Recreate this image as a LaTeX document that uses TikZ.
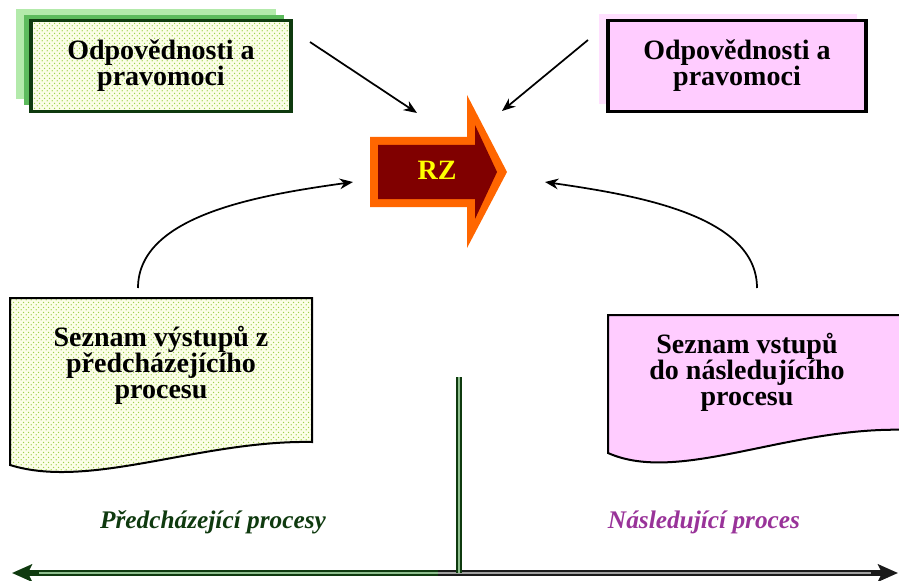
\documentclass[tikz,border=0pt]{standalone}
\usepackage{fontspec}
\setmainfont{Liberation Serif}
\usepackage{tikz}
\usetikzlibrary{arrows.meta, patterns, shadows, positioning, calc}
\definecolor{mygreen}{HTML}{0F3A0F}
\definecolor{lightshade}{HTML}{B3EAAB}
\definecolor{midshade}{HTML}{5DBB5D}
\definecolor{dotgreen}{HTML}{9FD24A}
\definecolor{paleyellow}{HTML}{FBFDE8}
\definecolor{mypink}{HTML}{FFCCFF}
\definecolor{palepink}{HTML}{FFE0FF}
\definecolor{myorange}{HTML}{FF6600}
\definecolor{mymaroon}{HTML}{800000}
\definecolor{myyellow}{HTML}{FFFF00}
\definecolor{mypurple}{HTML}{993399}
\definecolor{lightline}{HTML}{8FBF8F}
\definecolor{darkline}{HTML}{1A1A1A}
\definecolor{greyline}{HTML}{A0A0A0}
\pgfdeclarepatternformonly{greendots}{\pgfpointorigin}{\pgfqpoint{4pt}{4pt}}{\pgfqpoint{4pt}{4pt}}{%
	\pgfpathcircle{\pgfqpoint{1pt}{1pt}}{0.6pt}%
	\pgfpathcircle{\pgfqpoint{3pt}{3pt}}{0.6pt}%
	\pgfusepath{fill}}
\tikzset{
	boxtext/.style={font=\fontsize{21}{19.5}\selectfont\bfseries, align=center},
	dotfill/.style={preaction={fill=paleyellow}, pattern=greendots, pattern color=dotgreen},
	flow/.style={line width=1.3pt, -{Stealth[length=10pt,width=8pt]}},
	bigtip/.style={-{Stealth[length=15pt,width=13pt,inset=3pt]}}
}

\begin{document}
\begin{tikzpicture}[x=0.75pt,y=-0.75pt]
			\useasboundingbox (0,0) rectangle (899,581);
			\clip (0,0) rectangle (899,581);
			% upper boxes
			\node [boxtext, general shadow={fill=lightshade, shadow xshift=-11.25pt, shadow yshift=9pt}, general shadow={fill=midshade, shadow xshift=-5.25pt, shadow yshift=4.5pt}, dotfill, draw=mygreen, line width=2.5pt, minimum width=195pt, minimum height=68pt] (respL) at (161,66) {Odpovědnosti a\\pravomoci};
			\node [boxtext, general shadow={fill=palepink, shadow xshift=-6.75pt, shadow yshift=5.25pt}, fill=mypink, draw=black, line width=2.5pt, minimum width=193.5pt, minimum height=68pt] (respR) at (737,66) {Odpovědnosti a\\pravomoci};
			% block arrow
			\fill [myorange] (370,137) -- (467,137) -- (467,95) -- (507,172) -- (467,248) -- (467,207) -- (370,207) -- cycle;
			\fill [mymaroon] (378,145) -- (475,145) -- (475,125) -- (497,172) -- (475,219) -- (475,199) -- (378,199) -- cycle;
			\node [font=\fontsize{21}{21}\selectfont\bfseries, text=myyellow] (rz) at (437,170) {RZ};
			% document shapes
			\draw [dotfill, line width=1.5pt] (10,298) -- (312,298) -- (312,442) .. controls (200,440) and (90,490) .. (10,465) -- cycle;
			\draw [fill=mypink, line width=1.5pt] (608,315) -- (910,315) -- (910,430) .. controls (790,425) and (680,485) .. (608,453) -- cycle;
			\node [boxtext] (prevOut) at (161,365) {Seznam výstupů z\\předcházejícího\\procesu};
			\node [boxtext] (nextIn) at (747,372) {Seznam vstupů\\do následujícího\\procesu};
			% connectors
			\coordinate (respL-out) at (310,42);
			\coordinate (respR-out) at (588,40);
			\coordinate (rz-in-l) at (417,113);
			\coordinate (rz-in-r) at (502,111);
			\coordinate (prevOut-top) at (138,288);
			\coordinate (nextIn-top) at (757,288);
			\coordinate (rz-back-l) at (353,182);
			\coordinate (rz-back-r) at (545,182);
			\draw [flow] (respL-out) -- (rz-in-l);
			\draw [flow] (respR-out) -- (rz-in-r);
			\draw [flow] (prevOut-top) .. controls (138,215) and (260,195) .. (rz-back-l);
			\draw [flow] (nextIn-top) .. controls (757,215) and (635,195) .. (rz-back-r);
			% time line
			\coordinate (split) at (438,573);
			\coordinate (leftEnd) at (12,573);
			\coordinate (rightEnd) at (898,573);
			\coordinate (divTop) at (459,377);
			\coordinate (divBottom) at (459,573);
			\draw [bigtip, mygreen, line width=4.5pt] (split) -- (leftEnd);
			\draw [lightline, line width=1.4pt, shorten >=20pt] (split) -- (leftEnd);
			\draw [bigtip, darkline, line width=4.5pt] (split) -- (rightEnd);
			\draw [greyline, line width=1.4pt, shorten >=20pt] (split) -- (rightEnd);
			\draw [mygreen, line width=1.5pt, double=lightline, double distance=2pt] (divTop) -- (divBottom);
			\node [font=\fontsize{19}{20}\selectfont\bfseries\itshape, text=mygreen, anchor=base] (prevLabel) at (213,528) {Předcházející procesy};
			\node [font=\fontsize{19}{20}\selectfont\bfseries\itshape, text=mypurple, anchor=base] (nextLabel) at (704,528) {Následující proces};
\end{tikzpicture}
\end{document}
